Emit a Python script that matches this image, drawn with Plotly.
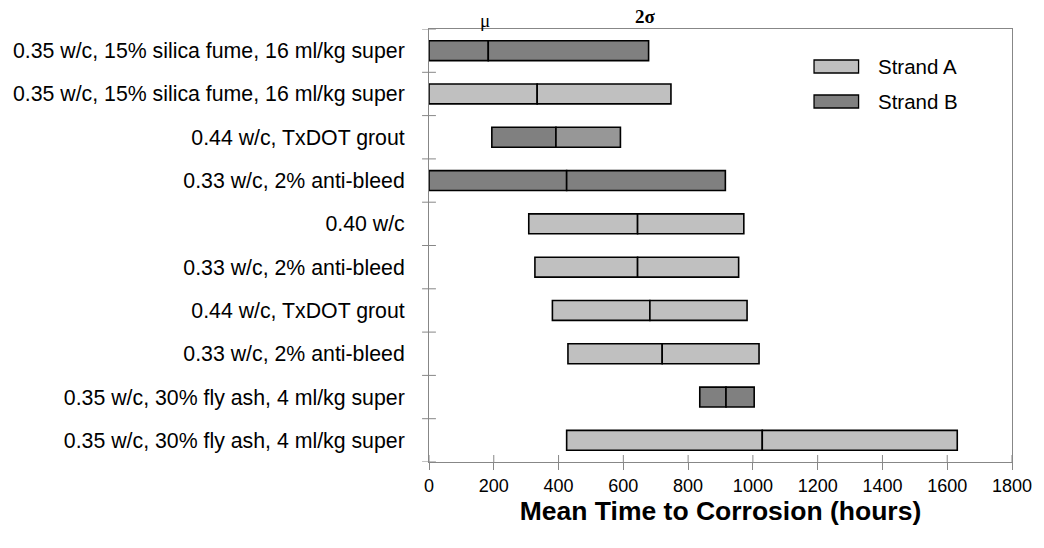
import plotly.graph_objects as go

# Grout mixes, listed top to bottom
categories = [
    "0.35 w/c, 15% silica fume, 16 ml/kg super",
    "0.35 w/c, 15% silica fume, 16 ml/kg super",
    "0.44 w/c, TxDOT grout",
    "0.33 w/c, 2% anti-bleed",
    "0.40 w/c",
    "0.33 w/c, 2% anti-bleed",
    "0.44 w/c, TxDOT grout",
    "0.33 w/c, 2% anti-bleed",
    "0.35 w/c, 30% fly ash, 4 ml/kg super",
    "0.35 w/c, 30% fly ash, 4 ml/kg super",
]
strand = ["B", "A", "B", "B", "A", "A", "A", "A", "B", "A"]

# Time to corrosion (hours): lower bound (mean - 2 sigma, floored at 0), mean, upper bound
lower = [0, 0, 194, 0, 308, 327, 381, 429, 836, 425]
mean = [183, 334, 392, 425, 644, 644, 682, 720, 917, 1029]
upper = [678, 747, 591, 915, 972, 956, 982, 1019, 1004, 1631]

x_ticks = [0, 200, 400, 600, 800, 1000, 1200, 1400, 1600, 1800]
legend_labels = ["Strand A", "Strand B"]

FILL = {"A": "#c0c0c0", "B": "#808080"}
AXIS = "#878787"
FONT = "Liberation Sans, Arial, sans-serif"
SERIF = "Liberation Serif, Times New Roman, serif"

rows = list(range(len(categories)))
low_colors = [FILL[s] for s in strand]
high_colors = [FILL[s] for s in strand]
high_colors[2] = "#979797"  # second half of the TxDOT grout (strand B) bar is a lighter grey

bar_w = 0.46
outline = dict(color="#000000", width=1.6)

fig = go.Figure()
fig.add_trace(go.Bar(
    y=rows, x=[m - lo for m, lo in zip(mean, lower)], base=lower,
    orientation="h", width=bar_w,
    marker=dict(color=low_colors, line=outline),
    showlegend=False, hoverinfo="skip",
))
fig.add_trace(go.Bar(
    y=rows, x=[u - m for u, m in zip(upper, mean)], base=mean,
    orientation="h", width=bar_w,
    marker=dict(color=high_colors, line=outline),
    showlegend=False, hoverinfo="skip",
))

shapes = []
# cross-style tick marks on the category axis, at the category boundaries
plot_w_px, plot_h_px = 589.0, 433.0
tx = 7 / plot_w_px
ty = 7 / plot_h_px
for i in range(len(categories) + 1):
    yb = i - 0.5
    shapes.append(dict(type="line", xref="paper", yref="y", x0=-tx, x1=tx, y0=yb, y1=yb,
                       line=dict(color=AXIS, width=1)))
# inner half of the value-axis ticks
for v in x_ticks:
    shapes.append(dict(type="line", xref="x", yref="paper", x0=v, x1=v, y0=0, y1=ty,
                       line=dict(color=AXIS, width=1)))


def px_to_paper_x(px):
    return (px - 429) / plot_w_px


def px_to_paper_y(py):
    return (462 - py) / plot_h_px


# legend keys
annotations = []
for k, (lab, key) in enumerate(zip(legend_labels, ["A", "B"])):
    top = 60 + k * 35
    shapes.append(dict(type="rect", xref="paper", yref="paper",
                       x0=px_to_paper_x(818), x1=px_to_paper_x(863),
                       y0=px_to_paper_y(top + 13), y1=px_to_paper_y(top),
                       fillcolor=FILL[key], line=dict(color="#000000", width=1.3)))
    annotations.append(dict(xref="paper", yref="paper", x=px_to_paper_x(881),
                            y=px_to_paper_y(top + 6.5), text=lab, showarrow=False,
                            xanchor="left", yanchor="middle",
                            font=dict(family=FONT, size=20.5, color="#000000")))

# mean / two-sigma markers above the first bar
annotations.append(dict(xref="x", yref="paper", x=mean[0], y=1, text="\u03bc", showarrow=False,
                        xanchor="center", yanchor="bottom", xshift=-3, yshift=-4,
                        font=dict(family=SERIF, size=19, color="#000000")))
annotations.append(dict(xref="x", yref="paper", x=upper[0], y=1, text="<b>2\u03c3</b>", showarrow=False,
                        xanchor="center", yanchor="bottom", xshift=-3, yshift=0,
                        font=dict(family=SERIF, size=19, color="#000000")))

fig.update_layout(
    width=1044, height=548,
    margin=dict(l=429, r=26, t=29, b=86),
    paper_bgcolor="#ffffff", plot_bgcolor="#ffffff",
    barmode="overlay",
    font=dict(family=FONT, color="#000000"),
    shapes=shapes, annotations=annotations,
    xaxis=dict(
        range=[0, 1800], tickvals=x_ticks, ticktext=[str(v) for v in x_ticks],
        ticks="outside", ticklen=7, tickwidth=1, tickcolor=AXIS,
        showline=True, linecolor=AXIS, linewidth=1, mirror=True,
        showgrid=False, zeroline=False,
        tickfont=dict(family=FONT, size=18, color="#000000"),
        title=dict(text="Mean Time to Corrosion (hours)", standoff=4,
                   font=dict(family=FONT, size=26.5, weight="bold", color="#000000")),
    ),
    yaxis=dict(
        range=[len(categories) - 0.5, -0.5], tickvals=rows, ticktext=categories,
        ticks="", ticklabelstandoff=19,
        showline=True, linecolor=AXIS, linewidth=1, mirror=True,
        showgrid=False, zeroline=False,
        tickfont=dict(family=FONT, size=21.3, color="#000000"),
    ),
)

fig.write_html("out.html")
